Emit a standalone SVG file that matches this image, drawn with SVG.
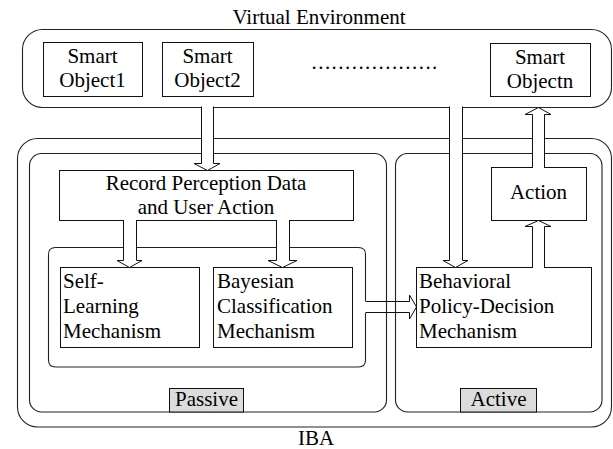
<svg xmlns="http://www.w3.org/2000/svg" width="613" height="449" viewBox="0 0 613 449" font-family="'Liberation Serif', 'Times New Roman', serif">
<style>
.frame{fill:none;stroke:#222;stroke-width:1.1}
.box{fill:#fff;stroke:#111;stroke-width:1}
.lbl{fill:#dcdcdc;stroke:#111;stroke-width:1}
.arr{fill:#fff;stroke:#111;stroke-width:1}
.open{fill:none;stroke:#111;stroke-width:1}
text{font-family:"Liberation Serif","Times New Roman",serif;font-size:21px;fill:#000}
.c{text-anchor:middle}
</style>
<rect width="613" height="449" fill="#fff"/>
<g id="frames">
<text class="c" x="319" y="24">Virtual Environment</text>
<rect id="virtual-environment" class="frame" x="22.5" y="29.5" width="589" height="78" rx="20"/>
<rect id="iba" class="frame" x="17.5" y="138.5" width="594" height="288.5" rx="20"/>
<rect id="passive" class="frame" x="29.5" y="153.5" width="357" height="258.5" rx="12"/>
<rect id="active" class="frame" x="395.5" y="153.5" width="206.5" height="258.5" rx="12"/>
<path id="mechanisms" class="frame" d="M365.5,301 L365.5,254.5 Q365.5,247.5 358.5,247.5 L55.5,247.5 Q48.5,247.5 48.5,254.5 L48.5,360 Q48.5,367 55.5,367 L358.5,367 Q365.5,367 365.5,360 L365.5,313"/>
<text class="c" x="316" y="445">IBA</text>
</g>
<g id="so1">
<rect class="box" x="43.5" y="42.5" width="99" height="54"/>
<text class="c" x="92.5" y="63">Smart</text>
<text class="c" x="92.5" y="87">Object1</text>
</g>
<g id="so2">
<rect class="box" x="162.5" y="42.5" width="91" height="54"/>
<text class="c" x="207.5" y="63">Smart</text>
<text class="c" x="207.5" y="87">Object2</text>
</g>
<g id="dots">
<text x="311.5" y="69" letter-spacing="1.45">...................</text>
</g>
<g id="son">
<rect class="box" x="490.5" y="43.5" width="100" height="53"/>
<text class="c" x="540" y="64">Smart</text>
<text class="c" x="540" y="88">Objectn</text>
</g>
<g id="record">
<rect class="box" x="59.5" y="170.5" width="294" height="50"/>
<text class="c" x="206" y="190">Record Perception Data</text>
<text class="c" x="206" y="214">and User Action</text>
</g>
<g id="action">
<rect class="box" x="491.5" y="167.5" width="95" height="53"/>
<text class="c" x="538.5" y="199">Action</text>
</g>
<g id="self">
<rect class="box" x="60.5" y="267.5" width="139" height="80"/>
<text x="63" y="288">Self-</text>
<text x="63" y="313">Learning</text>
<text x="63" y="338">Mechanism</text>
</g>
<g id="bayes">
<rect class="box" x="213.5" y="267.5" width="139" height="80"/>
<text x="217" y="288">Bayesian</text>
<text x="217" y="313">Classification</text>
<text x="217" y="338">Mechanism</text>
</g>
<g id="behav">
<rect class="box" x="416.5" y="267.5" width="175" height="80"/>
<text x="419" y="288">Behavioral</text>
<text x="419" y="313">Policy-Decision</text>
<text x="419" y="338">Mechanism</text>
</g>
<g id="passive-label">
<rect class="lbl" x="169.5" y="388.5" width="74" height="23.5"/>
<text class="c" x="206.5" y="406">Passive</text>
</g>
<g id="active-label">
<rect class="lbl" x="460.5" y="388.5" width="76" height="23.5"/>
<text class="c" x="498.5" y="406">Active</text>
</g>
<g id="connectors">
<path class="arr" d="M201.5,106.5 L201.5,163.5 L194,163.5 L207.5,170.5 L220,163.5 L213.5,163.5 L213.5,106.5"/>
<path class="arr" d="M449.5,106.5 L449.5,260.5 L443,260.5 L455.5,267.5 L468,260.5 L462.5,260.5 L462.5,106.5"/>
<path class="arr" d="M123.5,220 L123.5,260.5 L117,260.5 L129.5,267.5 L142,260.5 L136.5,260.5 L136.5,220"/>
<path class="arr" d="M276.5,220 L276.5,260.5 L268,260.5 L282.5,267.5 L297,260.5 L289.5,260.5 L289.5,220"/>
<path class="arr" d="M532.5,268 L532.5,226.5 L525,226.5 L538.5,220.5 L551,226.5 L544.5,226.5 L544.5,268"/>
<path class="arr" d="M532.5,168 L532.5,114.5 L525,114.5 L538.5,107.5 L551,114.5 L544.5,114.5 L544.5,168"/>
<path class="open" d="M365.5,301.5 L409.5,301.5 L409.5,295 L416.5,307 L409.5,319 L409.5,312.5 L365.5,312.5"/>
</g>
</svg>
